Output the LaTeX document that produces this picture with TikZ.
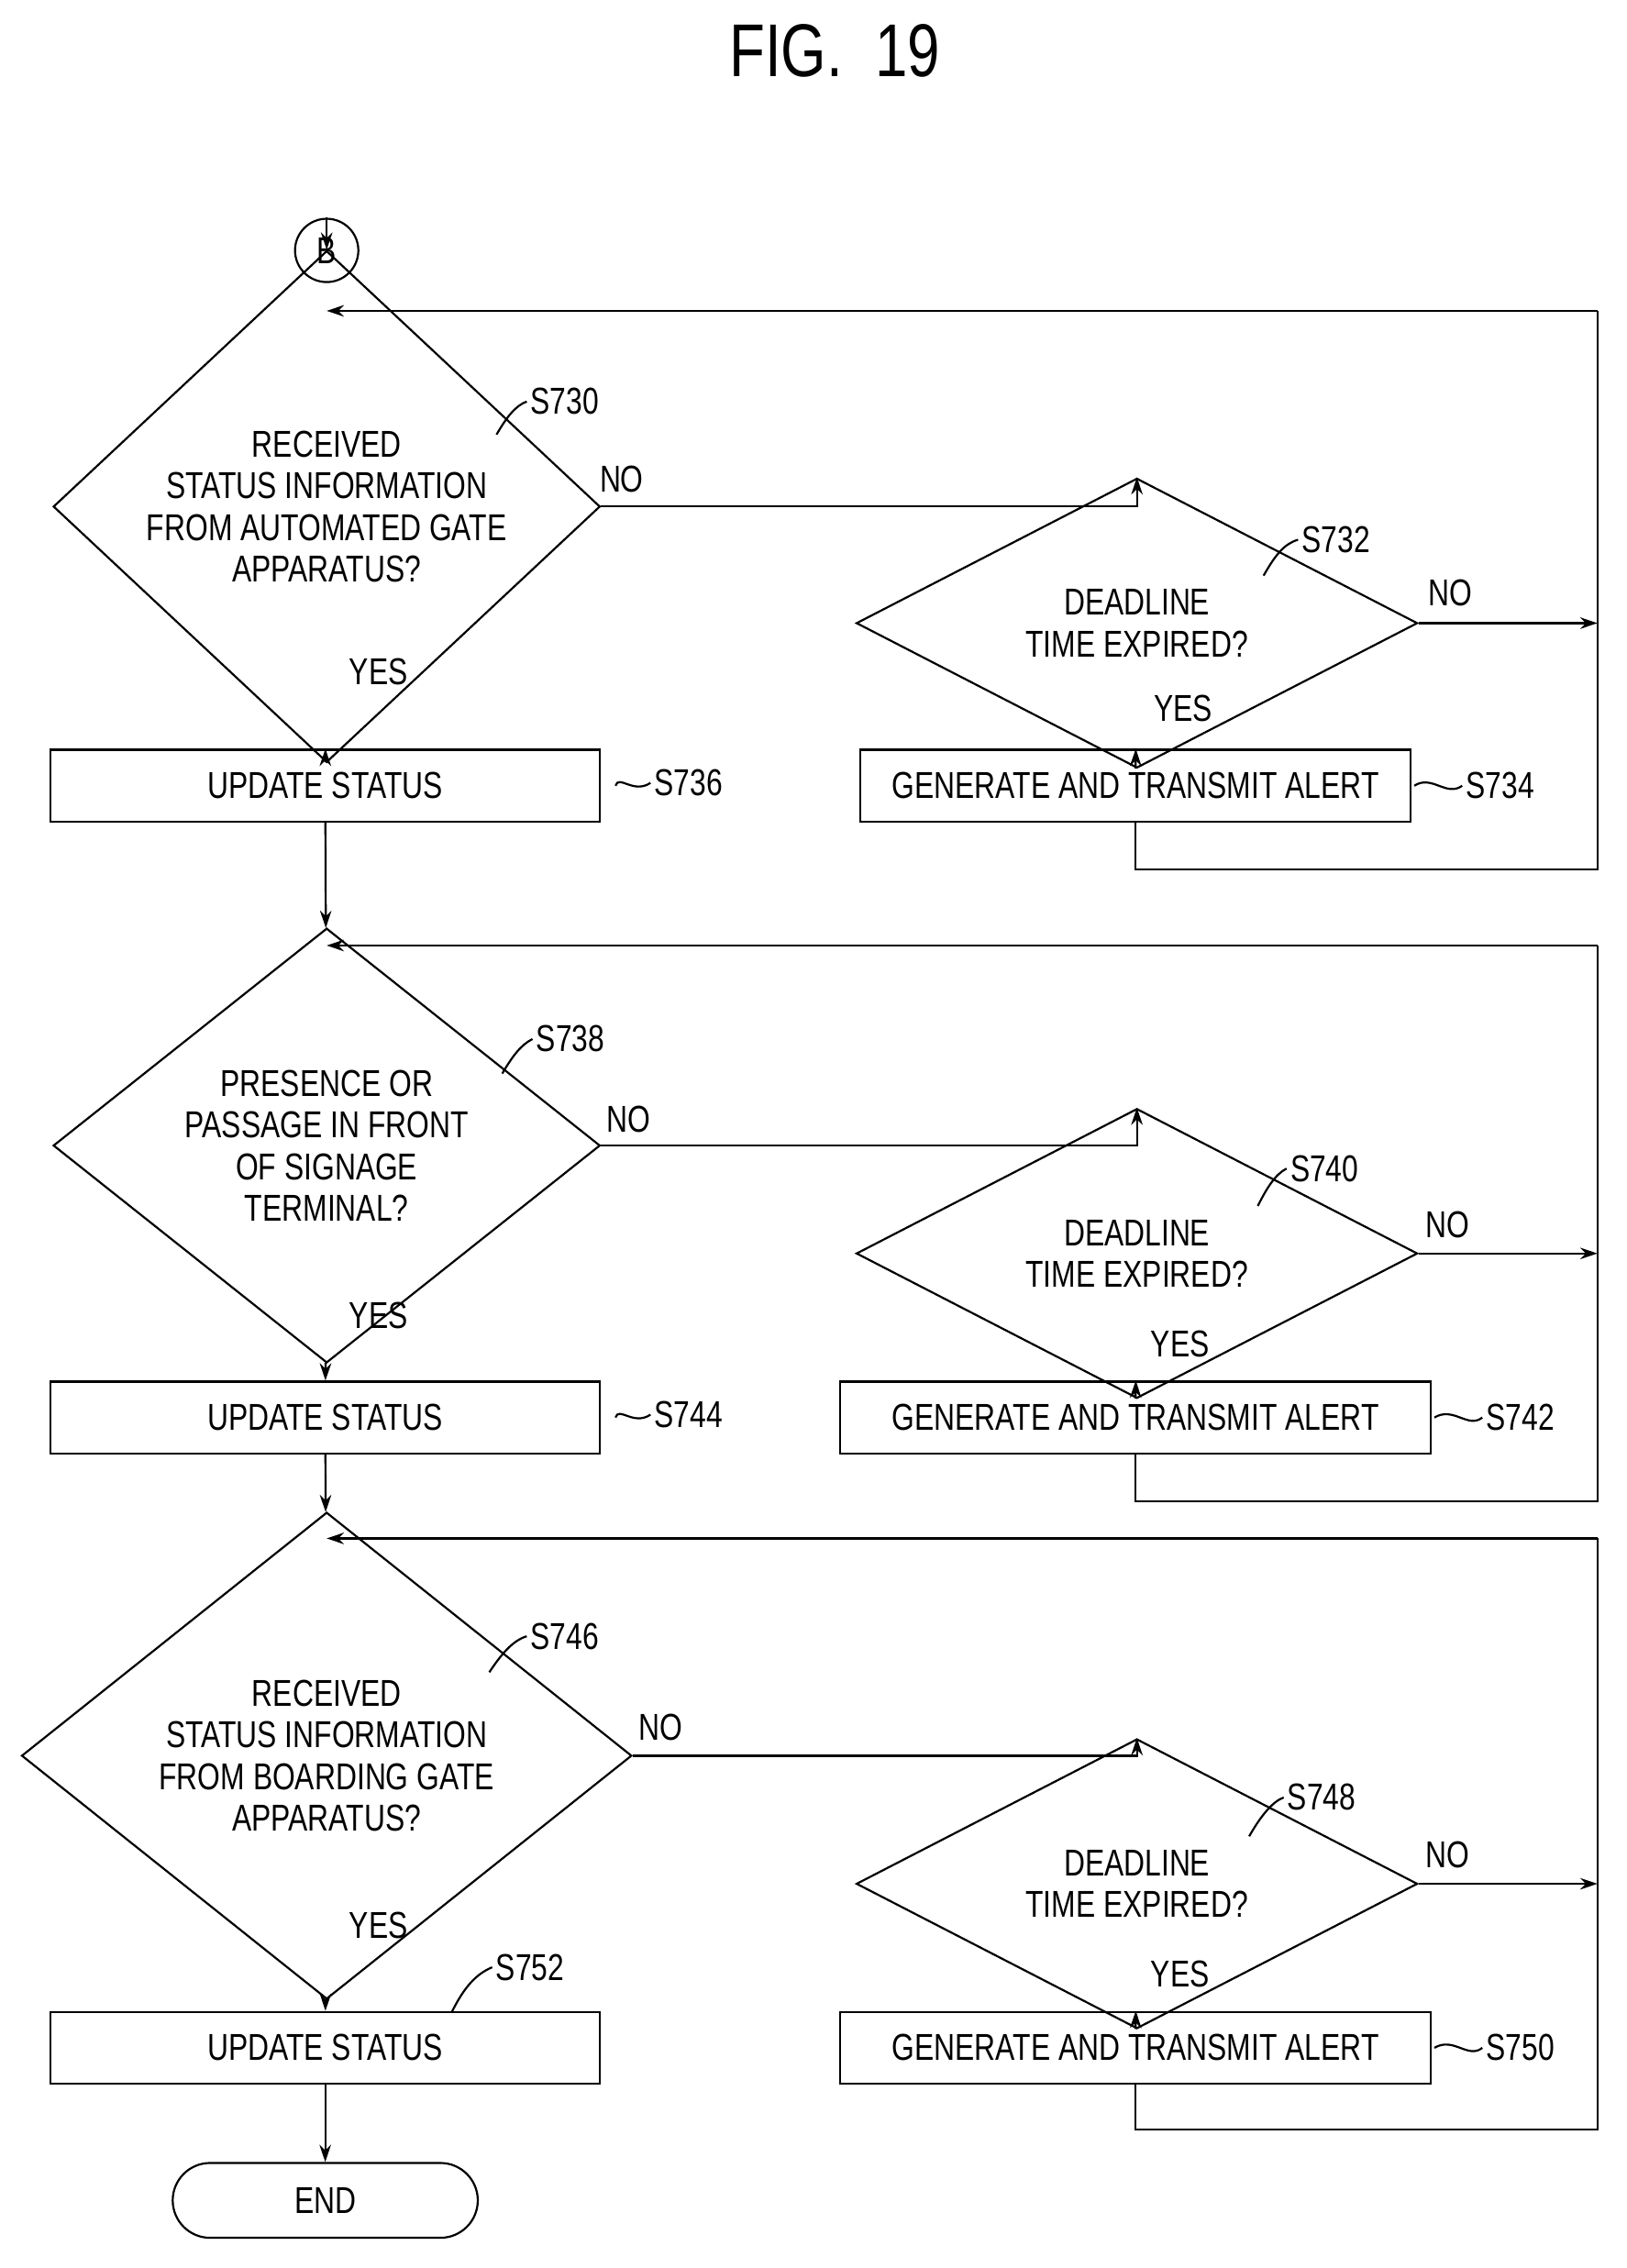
\documentclass[tikz,border=0pt]{standalone}
\usepackage{fontspec}
\setmainfont{Liberation Sans}[FakeStretch=0.78]
\usetikzlibrary{shapes.geometric,arrows.meta}
\begin{document}
\begin{tikzpicture}[x=0.5pt, y=-0.5pt, line width=0.7pt, font=\fontsize{13}{14.5}\selectfont,
  dec/.style={diamond, draw, inner sep=0pt, align=center},
  box/.style={rectangle, draw, inner sep=0pt, minimum height=25pt},
  lbl/.style={inner sep=1pt},
  arr/.style={-{Stealth[length=6pt,width=4pt]}}]
\useasboundingbox (0,0) rectangle (1130,1576);
\node at (580,35) {\fontsize{26}{28}\selectfont FIG.~~19};
\node [circle, draw, minimum size=22pt, inner sep=0pt] (b) at (227,174) {B};

% first block
\node [dec, minimum width=190pt, minimum height=97pt] (s730) at (227,352) {RECEIVED\\STATUS INFORMATION\\FROM AUTOMATED GATE\\APPARATUS?};
\node [dec, minimum width=195pt, minimum height=46pt] (s732) at (790,433) {DEADLINE\\TIME EXPIRED?};
\node [box, minimum width=191pt] (s736) at (226,546) {UPDATE STATUS};
\node [box, minimum width=191pt] (s734) at (789,546) {GENERATE AND TRANSMIT ALERT};
\coordinate (m1) at (227,216);
\coordinate (r1) at (1110,216);
\draw [arr] (b) -- (s730);
\draw [arr] (r1) -- (m1);
\draw [arr] (s730.east) -| (s732.north);
\draw [arr] (s732.east) -- (1110,433);
\draw [arr] (s732) -- (s734);
\draw [arr] (s730) -- (s736);
\draw (s734.south) |- (1110,604) -- (r1);
\node [lbl] at (432,333) {NO};
\node [lbl] at (1008,412) {NO};
\node [lbl] at (822,492) {YES};
\node [lbl] at (263,467) {YES};

% second block
\node [dec, minimum width=190pt, minimum height=97pt] (s738) at (227,796) {PRESENCE OR\\PASSAGE IN FRONT\\OF SIGNAGE\\TERMINAL?};
\node [dec, minimum width=195pt, minimum height=45pt] (s740) at (790,871) {DEADLINE\\TIME EXPIRED?};
\node [box, minimum width=191pt] (s744) at (226,985) {UPDATE STATUS};
\node [box, minimum width=205pt] (s742) at (789,985) {GENERATE AND TRANSMIT ALERT};
\coordinate (m2) at (227,657);
\coordinate (r2) at (1110,657);
\draw [arr] (s736) -- (s738);
\draw [arr] (r2) -- (m2);
\draw [arr] (s738.east) -| (s740.north);
\draw [arr] (s740.east) -- (1110,871);
\draw [arr] (s740) -- (s742);
\draw [arr] (s738) -- (s744);
\draw (s742.south) |- (1110,1043) -- (r2);
\node [lbl] at (437,778) {NO};
\node [lbl] at (1006,851) {NO};
\node [lbl] at (820,934) {YES};
\node [lbl] at (263,914) {YES};

% third block
\node [dec, minimum width=212pt, minimum height=105pt] (s746) at (227,1220) {RECEIVED\\STATUS INFORMATION\\FROM BOARDING GATE\\APPARATUS?};
\node [dec, minimum width=195pt, minimum height=45pt] (s748) at (790,1309) {DEADLINE\\TIME EXPIRED?};
\node [box, minimum width=191pt] (s752) at (226,1423) {UPDATE STATUS};
\node [box, minimum width=205pt] (s750) at (789,1423) {GENERATE AND TRANSMIT ALERT};
\node [rounded corners=13pt, draw, minimum width=106pt, minimum height=26pt, inner sep=0pt] (end) at (226,1529) {END};
\coordinate (m3) at (227,1069);
\coordinate (r3) at (1110,1069);
\draw [arr] (s744) -- (s746);
\draw [arr] (r3) -- (m3);
\draw [arr] (s746.east) -| (s748.north);
\draw [arr] (s748.east) -- (1110,1309);
\draw [arr] (s748) -- (s750);
\draw [arr] (s746) -- (s752);
\draw [arr] (s752) -- (end);
\draw (s750.south) |- (1110,1480) -- (r3);
\node [lbl] at (459,1200) {NO};
\node [lbl] at (1006,1289) {NO};
\node [lbl] at (820,1372) {YES};
\node [lbl] at (263,1338) {YES};

% step labels
\node [lbl, anchor=west] (t730) at (366,279) {S730};
\draw (345,302) .. controls (352,290) and (358,282) .. (t730.west);
\node [lbl, anchor=west] (t732) at (902,375) {S732};
\draw (878,400) .. controls (886,386) and (892,378) .. (t732.west);
\node [lbl, anchor=west] (t736) at (452,544) {S736};
\draw (s736.east) ++(10,0) .. controls (430,538) and (440,552) .. (t736.west);
\node [lbl, anchor=west] (t734) at (1016,546) {S734};
\draw (s734.east) ++(2,0) .. controls (995,538) and (1005,554) .. (t734.west);
\node [lbl, anchor=west] (t738) at (370,722) {S738};
\draw (349,746) .. controls (356,734) and (362,726) .. (t738.west);
\node [lbl, anchor=west] (t740) at (894,812) {S740};
\draw (874,838) .. controls (880,826) and (886,816) .. (t740.west);
\node [lbl, anchor=west] (t744) at (452,983) {S744};
\draw (s744.east) ++(10,0) .. controls (430,977) and (440,991) .. (t744.west);
\node [lbl, anchor=west] (t742) at (1030,985) {S742};
\draw (s742.east) ++(2,0) .. controls (1010,977) and (1020,993) .. (t742.west);
\node [lbl, anchor=west] (t746) at (366,1137) {S746};
\draw (340,1162) .. controls (348,1150) and (356,1140) .. (t746.west);
\node [lbl, anchor=west] (t748) at (892,1249) {S748};
\draw (868,1276) .. controls (876,1262) and (884,1252) .. (t748.west);
\node [lbl, anchor=west] (t752) at (342,1367) {S752};
\draw (314,1398) .. controls (322,1382) and (330,1372) .. (t752.west);
\node [lbl, anchor=west] (t750) at (1030,1423) {S750};
\draw (s750.east) ++(2,0) .. controls (1010,1415) and (1020,1431) .. (t750.west);
\end{tikzpicture}
\end{document}
